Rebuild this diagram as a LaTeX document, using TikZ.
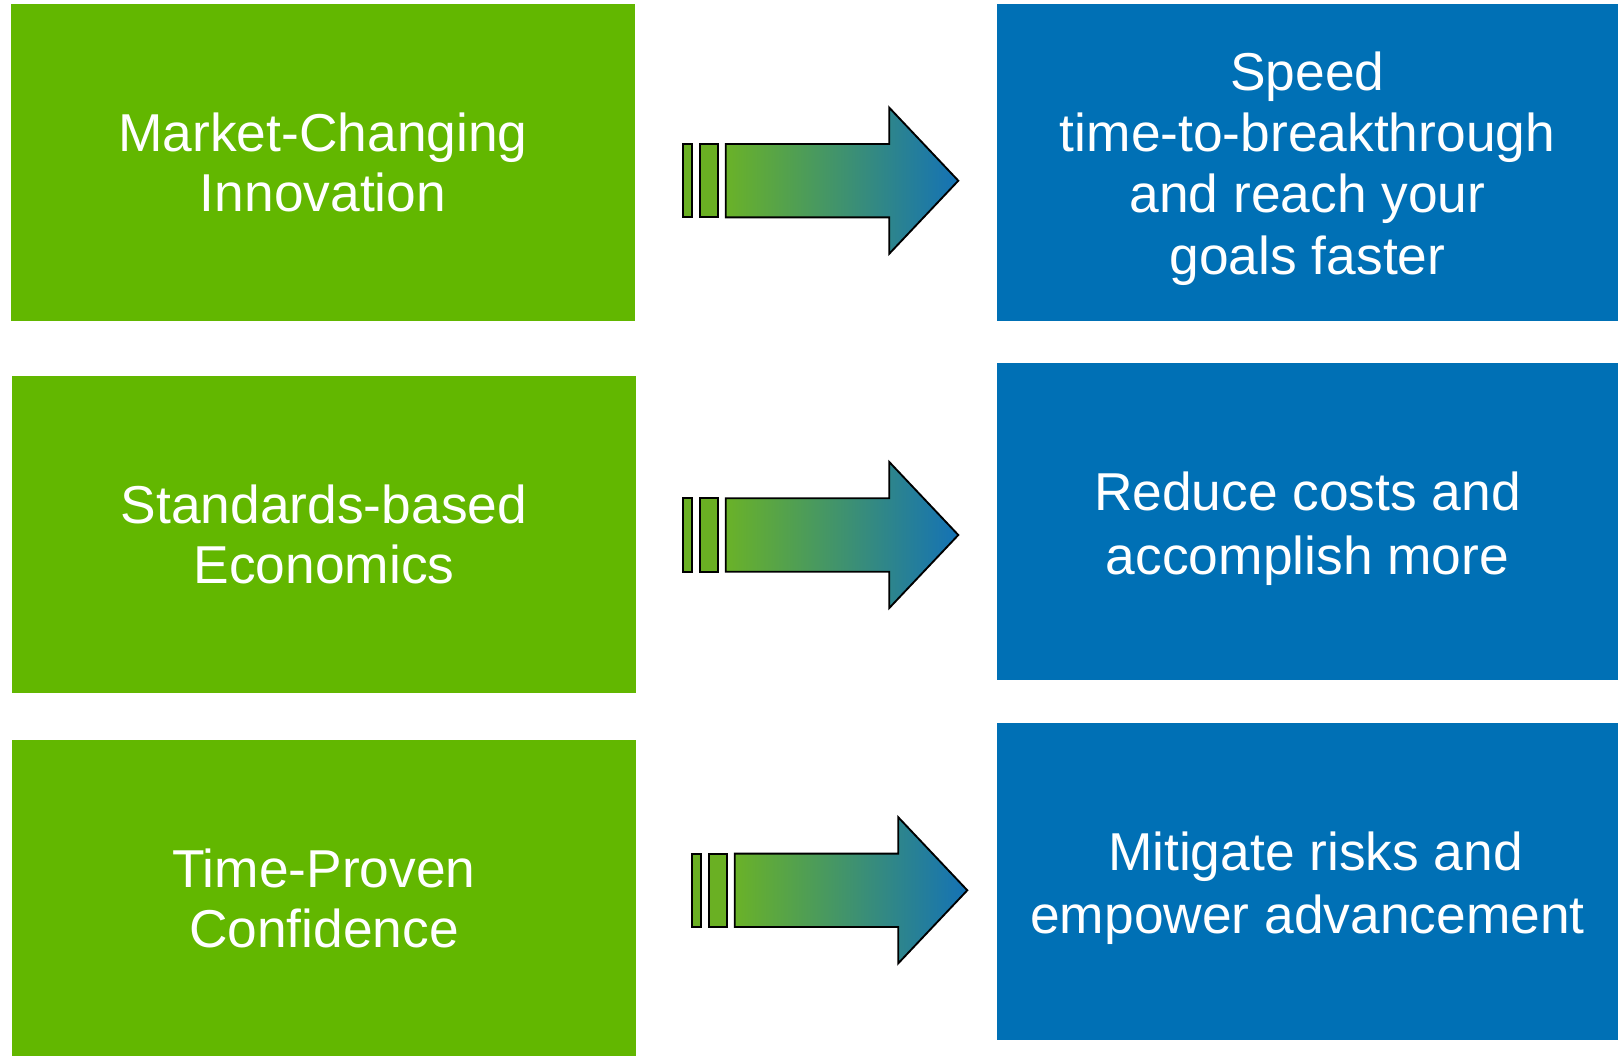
\documentclass[tikz,border=0pt]{standalone}
\usepackage{fontspec}
\setmainfont{Liberation Sans}
\definecolor{boxgreen}{RGB}{98,183,0}
\definecolor{boxblue}{RGB}{0,112,181}
\definecolor{argreen}{RGB}{106,178,40}
\definecolor{arblue}{RGB}{20,114,182}
\definecolor{bargreen}{RGB}{106,176,35}
\begin{document}
\begin{tikzpicture}[x=0.75pt,y=-0.75pt,
  gbox/.style={fill=boxgreen, inner sep=0pt, text=white, align=center,
    font=\fontsize{40}{45}\selectfont},
  bbox/.style={fill=boxblue, inner sep=0pt, text=white, align=center,
    font=\fontsize{40}{46}\selectfont},
  blockarr/.pic={
    \draw[line width=1.4pt, fill=bargreen, line join=miter] (0,-36.7) rectangle (9,36.7);
    \draw[line width=1.4pt, fill=bargreen, line join=miter] (17.3,-36.7) rectangle (35,36.7);
    \draw[line width=1.4pt, left color=argreen, right color=arblue, line join=miter]
      (43,-36.7) -- (206.6,-36.7) -- (206.6,-73) -- (275.6,0) -- (206.6,73)
      -- (206.6,36.7) -- (43,36.7) -- cycle;
  }]
\useasboundingbox (0,0) rectangle (1618,1056);
\node[gbox, minimum width=468pt, minimum height=237.5pt] (g1) at (323,162.35)
  {Market-Changing\\Innovation};
\node[gbox, minimum width=468pt, minimum height=237.5pt] (g2) at (324,534.35)
  {Standards-based\\Economics};
\node[gbox, minimum width=468pt, minimum height=237pt] (g3) at (324,898)
  {Time-Proven\\Confidence};
\fill[boxblue] (997,4) rectangle (1618,320.7);
\fill[boxblue] (997,363) rectangle (1618,680);
\fill[boxblue] (997,723) rectangle (1618,1040);
\node[bbox, fill=none] (b1) at (1307.5,168.5)
  {Speed\\time-to-breakthrough\\and reach your\\goals faster};
\node[bbox, fill=none, font=\fontsize{40}{48}\selectfont] (b2) at (1307.5,528.5)
  {Reduce costs and\\accomplish more};
\node[bbox, fill=none, font=\fontsize{40}{47}\selectfont] (b3) at (1307.5,888.5)
  {\hspace*{12pt}Mitigate risks and\\empower advancement};
\pic at (682.7,180.7) {blockarr};
\pic at (682.7,535) {blockarr};
\pic at (691.7,890.3) {blockarr};
\end{tikzpicture}
\end{document}
